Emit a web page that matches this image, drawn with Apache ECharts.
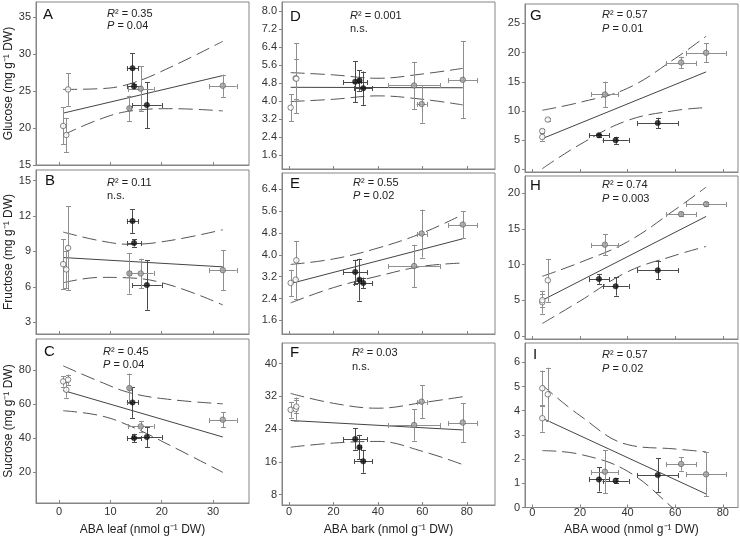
<!DOCTYPE html>
<html><head><meta charset="utf-8">
<script src="https://cdn.jsdelivr.net/npm/echarts@6/dist/echarts.min.js"></script>
<style>html,body{margin:0;padding:0;background:#fff}#c{width:740px;height:539px}</style>
</head><body><div id="c"></div>
<script>
// ---- shared x values per column; order: open 1-3, black 1-3, grey 1-3 ----
const leafX    = [0.8, 1.4, 1.75, 14.3, 14.6, 17.1, 13.7, 15.9, 31.9];
const leafXErr = [0, 0, 0, 1.1, 1.4, 2.9, 0.3, 2.5, 2.7];
const barkX    = [0.75, 3.0, 3.3, 29.8, 31.7, 33.4, 56.3, 59.7, 78.2];
const barkXErr = [0, 0, 0, 5.4, 0.6, 4.0, 11.6, 2.3, 6.5];
const woodX    = [4.2, 4.2, 6.5, 28.0, 35.0, 52.7, 30.5, 62.5, 73.0];
const woodXErr = [0, 0, 0, 4.2, 5.5, 8.6, 5.7, 6.4, 8.3];

// ---- y values (means) and errors per panel ----
const aY = [20.27, 19.05, 25.2, 28.07, 25.6, 23.1, 22.65, 25.3, 25.7];
const aErr = [2.5, 2.3, 2.2, 2.0, 0.4, 3.1, 1.7, 3.0, 1.5];
const bY = [7.92, 7.47, 9.29, 11.57, 9.71, 6.15, 7.13, 7.13, 7.41];
const bErr = [2.1, 1.6, 3.56, 1.0, 0.3, 2.1, 1.7, 1.25, 1.7];
const cY = [73.2, 68.3, 74.2, 60.9, 40.1, 40.7, 69.3, 46.9, 50.8];
const cErr = [3.0, 4.6, 3.0, 9.0, 2.5, 6.1, 8.5, 3.2, 4.3];
const dY = [3.72, 5.02, 5.0, 4.87, 4.92, 4.58, 4.7, 3.88, 4.95];
const dErr = [0.6, 1.55, 0.88, 0.9, 0.45, 0.74, 1.05, 0.83, 1.7];
const eY = [2.97, 3.09, 3.8, 3.37, 3.09, 2.97, 3.59, 4.78, 5.11];
const eErr = [0.48, 0.7, 0.69, 0.45, 0.77, 0.2, 0.78, 0.88, 0.49];
const fY = [28.7, 28.9, 29.5, 21.6, 19.6, 16.15, 25.0, 30.7, 25.6];
const fErr = [1.9, 2.8, 1.5, 2.6, 3.0, 2.8, 3.8, 4.0, 4.7];
const gY = [5.58, 6.6, 8.56, 5.87, 5.02, 7.98, 12.84, 18.3, 19.97];
const gErr = [0.6, 0.3, 0.2, 0.3, 0.6, 0.9, 2.2, 1.0, 1.6];
const hY = [4.74, 5.02, 7.81, 8.0, 6.97, 9.2, 12.79, 17.07, 18.47];
const hErr = [1.6, 0.9, 3.0, 0.7, 1.3, 1.25, 1.5, 0.3, 0.3];
const iY = [4.93, 3.69, 4.68, 1.16, 1.11, 1.34, 1.48, 1.8, 1.37];
const iErr = [0.73, 0.55, 1.1, 0.5, 0.1, 0.69, 0.9, 0.28, 0.91];

// ---- regression lines (end points) ----
const leafFitX = [0.8, 31.9];
const barkFitX = [0.75, 78.2];
const woodFitX = [4.2, 73.0];
const aFitY = [22.0, 27.07];
const bFitY = [8.48, 7.69];
const cFitY = [67.9, 40.7];
const dFitY = [4.62, 4.6];
const eFitY = [2.95, 4.59];
const fFitY = [26.1, 23.8];
const gFitY = [5.3, 16.7];
const hFitY = [5.02, 16.74];
const iFitY = [3.69, 0.56];

// ---- confidence bands (read at these x) ----
const leafBandX = [0.8, 8, 14, 22, 31.9];
const barkBandX = [0.75, 20, 40, 60, 78.2];
const woodBandX = [4.2, 20, 40, 60, 73.0];
const aUpper = [25.2, 25.3, 26.0, 28.3, 31.7];
const aLower = [19.05, 21.2, 22.3, 22.6, 22.3];
const bUpper = [10.64, 9.9, 9.6, 9.95, 10.84];
const bLower = [6.34, 6.8, 6.75, 6.1, 4.46];
const cUpper = [82.3, 73.0, 66.4, 62.5, 60.1];
const cLower = [56.05, 53.2, 46.9, 35.2, 20.0];
const dUpper = [5.27, 5.17, 5.02, 5.21, 5.46];
const dLower = [3.99, 4.09, 4.24, 4.09, 3.84];
const eUpper = [3.65, 3.85, 4.25, 4.8, 5.48];
const eLower = [2.24, 2.8, 3.22, 3.58, 3.7];
const fUpper = [32.7, 30.3, 29.1, 30.45, 31.9];
const fLower = [19.6, 20.6, 21.0, 18.6, 15.35];
const gUpper = [10.15, 11.5, 13.9, 19.0, 22.8];
const gLower = [0.17, 4.3, 8.4, 10.1, 10.6];
const hUpper = [8.37, 10.3, 13.2, 17.7, 20.84];
const hLower = [1.77, 4.9, 9.0, 11.3, 12.55];
const iUpper = [5.06, 3.8, 2.6, 2.42, 2.3];
const iLower = [2.35, 2.2, 1.5, -0.1, -1.2];

// ---- tick labels ----
const leafTicks = [0, 10, 20, 30];
const barkTicks = [0, 20, 40, 60, 80];
const woodTicks = [0, 20, 40, 60, 80];
const aTicks = [15, 20, 25, 30, 35];
const bTicks = [3, 6, 9, 12, 15];
const cTicks = [20, 40, 60, 80];
const dTicks = [1.6, 2.4, 3.2, 4.0, 4.8, 5.6, 6.4, 7.2, 8.0];
const eTicks = [1.6, 2.4, 3.2, 4.0, 4.8, 5.6, 6.4];
const fTicks = [8, 16, 24, 32, 40];
const gTicks = [0, 5, 10, 15, 20, 25];
const hTicks = [0, 5, 10, 15, 20];
const iTicks = [0, 1, 2, 3, 4, 5, 6];

// ---- texts ----
const panelLetters = ['A', 'B', 'C', 'D', 'E', 'F', 'G', 'H', 'I'];
const statR2 = ['0.35', '0.11', '0.45', '0.001', '0.55', '0.03', '0.57', '0.74', '0.57'];
const statP = ['0.04', null, '0.04', null, '0.02', null, '0.01', '0.003', '0.02'];
const rowTitles = ['Glucose (mg g\u207b\u00b9 DW)', 'Fructose (mg g\u207b\u00b9 DW)', 'Sucrose (mg g\u207b\u00b9 DW)'];
const colTitles = ['ABA leaf (nmol g\u207b\u00b9 DW)', 'ABA bark (nmol g\u207b\u00b9 DW)', 'ABA wood (nmol g\u207b\u00b9 DW)'];

// ---------------- build ----------------
const FONT = "'Liberation Sans', Arial, sans-serif";
const FRAME = '#858585';
const cols = [
  {x: leafX, xe: leafXErr, fitX: leafFitX, bandX: leafBandX, ticks: leafTicks, min: -4.5, max: 37, lm: 3},
  {x: barkX, xe: barkXErr, fitX: barkFitX, bandX: barkBandX, ticks: barkTicks, min: -3.15, max: 92.7, lm: 1},
  {x: woodX, xe: woodXErr, fitX: woodFitX, bandX: woodBandX, ticks: woodTicks, min: -3.07, max: 86.4, lm: 0}
];
const panels = [
  {y: aY, e: aErr, fit: aFitY, up: aUpper, lo: aLower, ticks: aTicks, min: 15, max: 37},
  {y: bY, e: bErr, fit: bFitY, up: bUpper, lo: bLower, ticks: bTicks, min: 2, max: 15.9},
  {y: cY, e: cErr, fit: cFitY, up: cUpper, lo: cLower, ticks: cTicks, min: 2.1, max: 98},
  {y: dY, e: dErr, fit: dFitY, up: dUpper, lo: dLower, ticks: dTicks, min: 1.0, max: 8.4, dec: 1},
  {y: eY, e: eErr, fit: eFitY, up: eUpper, lo: eLower, ticks: eTicks, min: 1.1, max: 7.0, dec: 1},
  {y: fY, e: fErr, fit: fFitY, up: fUpper, lo: fLower, ticks: fTicks, min: 5.5, max: 45},
  {y: gY, e: gErr, fit: gFitY, up: gUpper, lo: gLower, ticks: gTicks, min: -0.4, max: 28.3},
  {y: hY, e: hErr, fit: hFitY, up: hUpper, lo: hLower, ticks: hTicks, min: -0.4, max: 22.4},
  {y: iY, e: iErr, fit: iFitY, up: iUpper, lo: iLower, ticks: iTicks, min: 0, max: 6.8}
];
// layout boxes [left, top, width, height]
const boxes = [
  [36, 2, 213, 163], [36, 170, 213, 164], [36, 339, 213, 164],
  [282, 2, 213, 167], [282, 173, 213, 161], [282, 343, 213, 162],
  [525, 4, 213, 168], [525, 176, 213, 163], [525, 343, 213, 164.5]
];
const letterPos = [[43, 15], [45, 181], [44, 352], [290, 17], [290, 184], [290, 353], [530, 16], [530, 186], [533, 355]];
const statPos = [[107, 14, 26], [107, 183, 196], [103, 352, 365], [350, 16, 28.5], [353, 183, 196], [352, 353, 367], [602, 15, 28.5], [602, 185, 198.5], [602, 355, 369]];

const errColors = ['#8f8f8f', '#4a4a4a', '#8f8f8f'];
const groupStyles = [
  {color: '#ffffff', borderColor: '#555', borderWidth: 0.9},
  {color: '#111111', borderColor: '#111', borderWidth: 0.5},
  {color: '#a3a3a3', borderColor: '#666', borderWidth: 0.9}
];

function renderErr(params, api) {
  const x = api.value(0), y = api.value(1), ex = api.value(2), ey = api.value(3);
  const col = errColors[Math.floor(params.dataIndex / 3)];
  const st = {stroke: col, lineWidth: 1, fill: null};
  const cap = 2.5;
  const ch = [];
  const r = v => Math.round(v) + 0.5;
  if (ey > 0) {
    const a = api.coord([x, y - ey]), b = api.coord([x, y + ey]);
    const cx = r(a[0]);
    ch.push({type: 'line', shape: {x1: cx, y1: a[1], x2: cx, y2: b[1]}, style: st});
    ch.push({type: 'line', shape: {x1: cx - cap, y1: r(a[1]), x2: cx + cap, y2: r(a[1])}, style: st});
    ch.push({type: 'line', shape: {x1: cx - cap, y1: r(b[1]), x2: cx + cap, y2: r(b[1])}, style: st});
  }
  if (ex > 0) {
    const a = api.coord([x - ex, y]), b = api.coord([x + ex, y]);
    const cy = r(a[1]);
    ch.push({type: 'line', shape: {x1: a[0], y1: cy, x2: b[0], y2: cy}, style: st});
    ch.push({type: 'line', shape: {x1: r(a[0]), y1: cy - cap, x2: r(a[0]), y2: cy + cap}, style: st});
    ch.push({type: 'line', shape: {x1: r(b[0]), y1: cy - cap, x2: r(b[0]), y2: cy + cap}, style: st});
  }
  return {type: 'group', children: ch};
}

const grid = [], xAxis = [], yAxis = [], series = [], graphic = [];
panels.forEach((p, i) => {
  const c = cols[Math.floor(i / 3)];
  const row = i % 3;
  const b = boxes[i];
  grid.push({left: b[0], top: b[1], width: b[2], height: b[3], show: true, borderColor: FRAME, borderWidth: 1, backgroundColor: 'transparent'});
  xAxis.push({
    gridIndex: i, type: 'value', min: c.min, max: c.max, position: 'bottom',
    axisLine: {show: true, onZero: false, lineStyle: {color: FRAME}},
    axisTick: {show: true, inside: true, length: 3, customValues: c.ticks, lineStyle: {color: FRAME}},
    axisLabel: {show: row === 2, customValues: c.ticks, fontSize: 11, color: '#333', margin: c.lm, fontFamily: FONT},
    splitLine: {show: false}
  });
  yAxis.push({
    gridIndex: i, type: 'value', min: p.min, max: p.max, position: 'left',
    axisLine: {show: true, onZero: false, lineStyle: {color: FRAME}},
    axisTick: {show: true, inside: false, length: 3, customValues: p.ticks, lineStyle: {color: FRAME}},
    axisLabel: {show: true, customValues: p.ticks, fontSize: 11, color: '#333', margin: 5, fontFamily: FONT,
      formatter: v => p.dec ? v.toFixed(p.dec) : String(v)},
    splitLine: {show: false}
  });
  // confidence bands
  [p.up, p.lo].forEach(arr => {
    series.push({type: 'line', xAxisIndex: i, yAxisIndex: i, data: c.bandX.map((x, k) => [x, arr[k]]),
      smooth: 0.4, symbol: 'none', clip: true, silent: true, z: 1,
      lineStyle: {color: '#555', width: 1, type: [14, 6]}});
  });
  // regression line
  series.push({type: 'line', xAxisIndex: i, yAxisIndex: i, data: c.fitX.map((x, k) => [x, p.fit[k]]),
    symbol: 'none', silent: true, z: 1, lineStyle: {color: '#444', width: 1}});
  // error bars
  series.push({type: 'custom', xAxisIndex: i, yAxisIndex: i, renderItem: renderErr, z: 2, silent: true,
    encode: {x: 0, y: 1},
    data: c.x.map((x, k) => [x, p.y[k], c.xe[k], p.e[k]])});
  // markers
  for (let g = 0; g < 3; g++) {
    const idx = [g * 3, g * 3 + 1, g * 3 + 2];
    series.push({type: 'scatter', xAxisIndex: i, yAxisIndex: i, z: 3, silent: true,
      symbol: 'circle', symbolSize: 5.5,
      itemStyle: groupStyles[g],
      data: idx.map(k => [c.x[k], p.y[k]])});
  }
  // letters and stats
  graphic.push({type: 'text', x: letterPos[i][0], y: letterPos[i][1],
    style: {text: panelLetters[i], fontSize: 15, fontFamily: FONT, fill: '#111', textAlign: 'left', textVerticalAlign: 'middle'}});
  const sp = statPos[i];
  const rich = {i: {fontStyle: 'italic', fontSize: 11, fontFamily: FONT, fill: '#222'}, n: {fontSize: 11, fontFamily: FONT, fill: '#222'}};
  graphic.push({type: 'text', x: sp[0], y: sp[1],
    style: {text: '{i|R}{n|\u00b2 = ' + statR2[i] + '}', rich: rich, textAlign: 'left', textVerticalAlign: 'middle'}});
  graphic.push({type: 'text', x: sp[0], y: sp[2],
    style: {text: statP[i] ? '{i|P}{n| = ' + statP[i] + '}' : '{n|n.s.}', rich: rich, textAlign: 'left', textVerticalAlign: 'middle'}});
});
// axis titles
const rowCenters = [83.5, 252, 421];
rowTitles.forEach((t, k) => graphic.push({type: 'text', x: 9, y: rowCenters[k], rotation: Math.PI / 2,
  style: {text: t, fontSize: 12, fontFamily: FONT, fill: '#222', textAlign: 'center', textVerticalAlign: 'middle'}}));
const colCenters = [142.5, 388.5, 631.5];
colTitles.forEach((t, k) => graphic.push({type: 'text', x: colCenters[k], y: 530,
  style: {text: t, fontSize: 12, fontFamily: FONT, fill: '#222', textAlign: 'center', textVerticalAlign: 'middle'}}));

const chart = echarts.init(document.getElementById('c'), null, {renderer: 'canvas'});
chart.setOption({animation: false, backgroundColor: '#fff', grid, xAxis, yAxis, series, graphic});
</script></body></html>
